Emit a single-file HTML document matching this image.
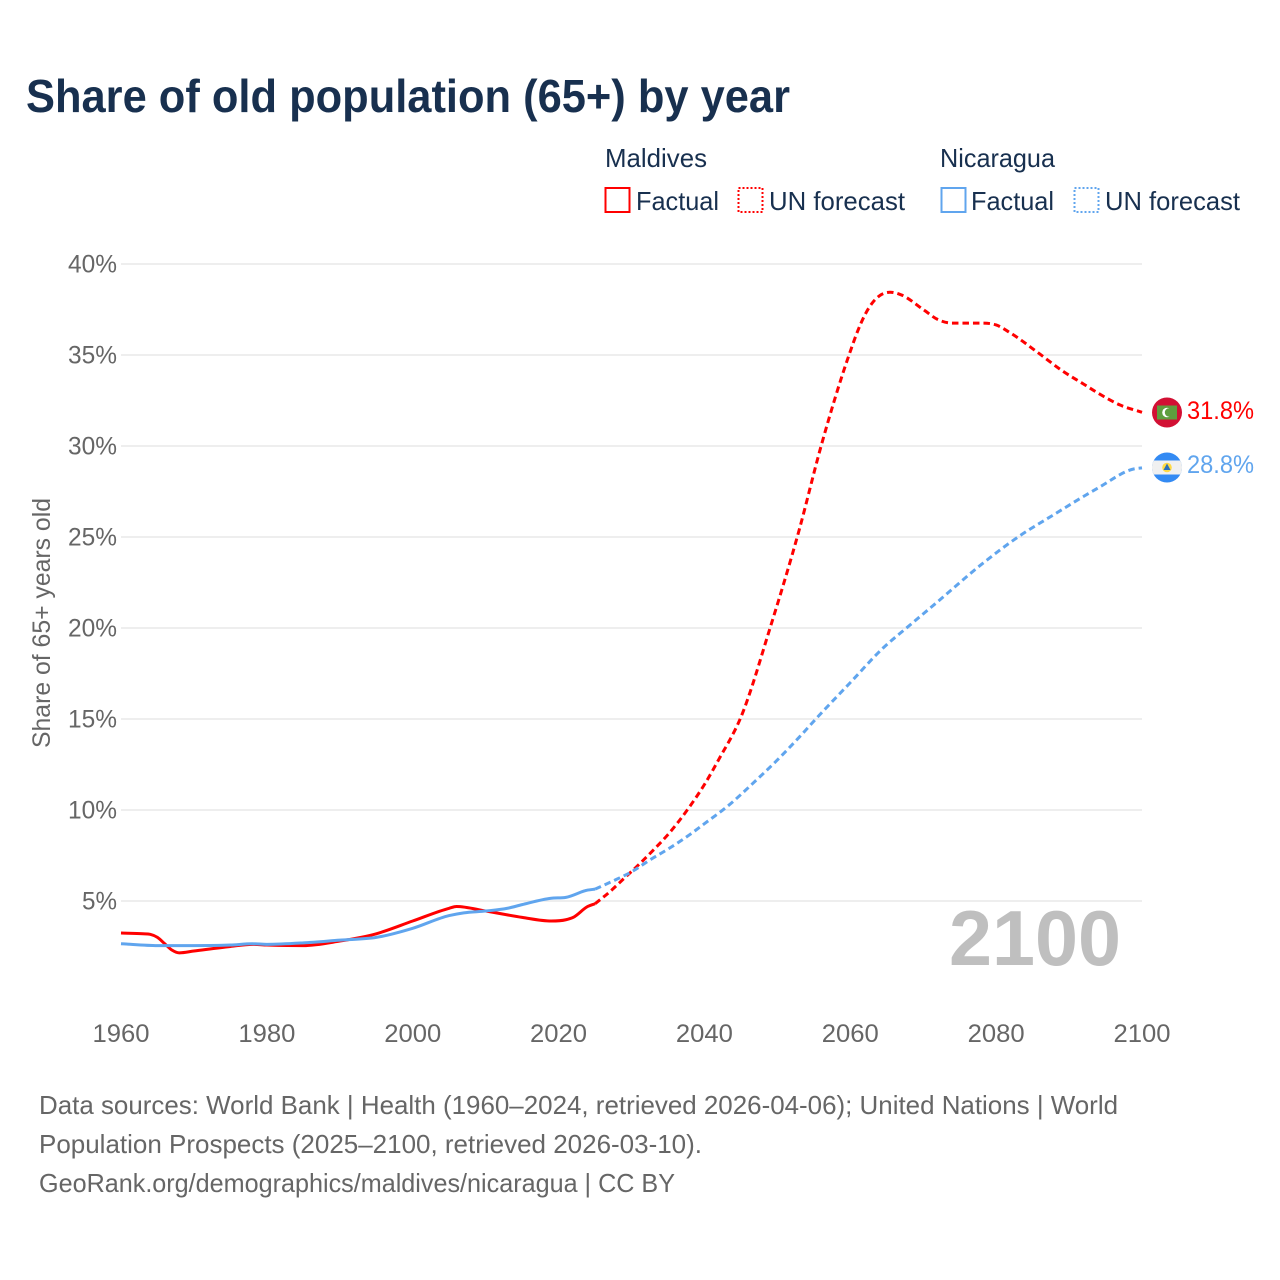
<!DOCTYPE html>
<html lang="en">
<head>
<meta charset="utf-8">
<title>Share of old population (65+) by year</title>
<style>
html,body{margin:0;padding:0;background:#fff}
svg{display:block;font-family:"Liberation Sans",sans-serif}
</style>
</head>
<body>
<svg id="chart" xmlns="http://www.w3.org/2000/svg" width="1280" height="1280" viewBox="0 0 1280 1280">
  <rect width="1280" height="1280" fill="#fff"/>
  <text x="26" y="112" font-size="46" font-weight="700" fill="#18304f" textLength="764" lengthAdjust="spacingAndGlyphs">Share of old population (65+) by year</text>

  <g font-size="26" fill="#18304f">
    <text x="605" y="167" textLength="102" lengthAdjust="spacingAndGlyphs">Maldives</text>
    <rect x="605.500" y="188" width="24" height="24" fill="none" stroke="#ff0000" stroke-width="2"/>
    <text x="636" y="210" textLength="83" lengthAdjust="spacingAndGlyphs">Factual</text>
    <rect x="738.500" y="188" width="24" height="24" fill="none" stroke="#ff0000" stroke-width="2" stroke-dasharray="2 2"/>
    <text x="769" y="210" textLength="136" lengthAdjust="spacingAndGlyphs">UN forecast</text>
    <text x="940" y="167" textLength="115" lengthAdjust="spacingAndGlyphs">Nicaragua</text>
    <rect x="941.500" y="188" width="24" height="24" fill="none" stroke="#60a5ee" stroke-width="2"/>
    <text x="971" y="210" textLength="83" lengthAdjust="spacingAndGlyphs">Factual</text>
    <rect x="1074.500" y="188" width="24" height="24" fill="none" stroke="#60a5ee" stroke-width="2" stroke-dasharray="2 2"/>
    <text x="1105" y="210" textLength="135" lengthAdjust="spacingAndGlyphs">UN forecast</text>
  </g>

  <g id="grid"></g>
  <g id="yticks" font-size="25" fill="#666"></g>
  <g id="xticks" font-size="25" fill="#666"></g>
  <text transform="translate(50,748) rotate(-90)" font-size="25" fill="#666" textLength="250" lengthAdjust="spacingAndGlyphs">Share of 65+ years old</text>
  <text x="949" y="965" font-size="78" font-weight="700" fill="#bfbfbf" textLength="172" lengthAdjust="spacingAndGlyphs">2100</text>

  <g id="series" fill="none" stroke-width="3" stroke-linejoin="round"></g>

  <g>
    <circle cx="1167" cy="412.500" r="15" fill="#d21034"/>
    <rect x="1157" y="405.500" width="20" height="14" fill="#5f9e3e"/>
    <circle cx="1167" cy="412.500" r="4.800" fill="#fff"/>
    <circle cx="1169" cy="412.500" r="4.200" fill="#5f9e3e"/>
  </g>
  <g>
    <circle cx="1167" cy="467.500" r="15" fill="#338af3"/>
    <path d="M1153.730 460.500 H1180.270 A15 15 0 0 1 1180.270 474.500 H1153.730 A15 15 0 0 1 1153.730 460.500 Z" fill="#f0f0f0"/>
    <circle cx="1167" cy="467.500" r="4.800" fill="#ffda44"/>
    <path d="M1167 463.500 L1170.500 470 H1163.500 Z" fill="#2a6fb8"/>
  </g>
  <text id="label-maldives" x="1187" y="419" font-size="25" fill="#ff0000" textLength="67" lengthAdjust="spacingAndGlyphs">31.8%</text>
  <text id="label-nicaragua" x="1187" y="473" font-size="25" fill="#60a5ee" textLength="67" lengthAdjust="spacingAndGlyphs">28.8%</text>

  <g font-size="26" fill="#666">
    <text x="39" y="1114" textLength="1079" lengthAdjust="spacingAndGlyphs">Data sources: World Bank | Health (1960–2024, retrieved 2026-04-06); United Nations | World</text>
    <text x="39" y="1153" textLength="663" lengthAdjust="spacingAndGlyphs">Population Prospects (2025–2100, retrieved 2026-03-10).</text>
    <text x="39" y="1192" textLength="636" lengthAdjust="spacingAndGlyphs">GeoRank.org/demographics/maldives/nicaragua | CC BY</text>
  </g>
</svg>
<script>
const yTickValues = [5, 10, 15, 20, 25, 30, 35, 40];
const xTickValues = [1960, 1980, 2000, 2020, 2040, 2060, 2080, 2100];

const maldivesFactualYears = [1960, 1963, 1964, 1965, 1966, 1967, 1968, 1970, 1975, 1978, 1980, 1985, 1990, 1995, 2000, 2005, 2006, 2010, 2015, 2019, 2021, 2022, 2024, 2025];
const maldivesFactualValues = [3.24, 3.2, 3.17, 3.0, 2.65, 2.3, 2.15, 2.25, 2.5, 2.62, 2.58, 2.55, 2.8, 3.2, 3.9, 4.6, 4.7, 4.45, 4.1, 3.9, 3.97, 4.1, 4.7, 4.85];
const maldivesForecastYears = [2025, 2027, 2029, 2031, 2033, 2035, 2038, 2040, 2042, 2045, 2049, 2053, 2056, 2060, 2061, 2062, 2063, 2064, 2065.5, 2067, 2070, 2072, 2074, 2078, 2080, 2082, 2086, 2089, 2092, 2094, 2097, 2100];
const maldivesForecastValues = [4.85, 5.5, 6.25, 7.0, 7.8, 8.65, 10.2, 11.4, 12.8, 15.1, 20.0, 25.4, 30.0, 35.2, 36.3, 37.2, 37.85, 38.25, 38.45, 38.3, 37.5, 36.95, 36.75, 36.75, 36.65, 36.2, 35.05, 34.15, 33.4, 32.9, 32.25, 31.85];
const nicaraguaFactualYears = [1960, 1965, 1970, 1975, 1978, 1980, 1985, 1990, 1995, 2000, 2005, 2007, 2010, 2013, 2015, 2019, 2021, 2024, 2025];
const nicaraguaFactualValues = [2.65, 2.55, 2.55, 2.58, 2.65, 2.62, 2.7, 2.85, 3.0, 3.5, 4.2, 4.35, 4.45, 4.6, 4.8, 5.15, 5.2, 5.6, 5.65];
const nicaraguaForecastYears = [2025, 2028, 2030, 2032.5, 2035, 2038, 2040, 2043, 2047, 2050, 2053, 2055.5, 2060, 2064.5, 2068, 2072, 2078, 2083, 2088, 2094, 2099, 2100];
const nicaraguaForecastValues = [5.65, 6.2, 6.6, 7.25, 7.85, 8.65, 9.25, 10.15, 11.6, 12.75, 14.0, 15.1, 17.0, 18.9, 20.1, 21.45, 23.5, 25.0, 26.25, 27.7, 28.75, 28.8];

const SVG_NS = 'http://www.w3.org/2000/svg';
const RED = '#ff0000';
const BLUE = '#60a5ee';

function xScale(year) { return 121 + (year - 1960) * (1142 - 121) / 140; }
function yScale(value) { return 992 - value * (992 - 264) / 40; }

function curvePath(years, values) {
  const xs = years.map(xScale);
  const ys = values.map(yScale);
  const n = xs.length;
  const slopes = [];
  for (let i = 0; i < n - 1; i++) { slopes.push((ys[i + 1] - ys[i]) / (xs[i + 1] - xs[i])); }
  const tangents = [slopes[0]];
  for (let i = 1; i < n - 1; i++) {
    const a = slopes[i - 1];
    const b = slopes[i];
    const ha = xs[i] - xs[i - 1];
    const hb = xs[i + 1] - xs[i];
    if (a * b <= 0) { tangents.push(0); }
    else {
      const t = (a * hb + b * ha) / (ha + hb);
      const limit = 3 * Math.min(Math.abs(a), Math.abs(b));
      tangents.push(Math.sign(t) * Math.min(Math.abs(t), limit));
    }
  }
  tangents.push(slopes[n - 2]);
  let d = 'M' + xs[0].toFixed(2) + ' ' + ys[0].toFixed(2);
  for (let i = 0; i < n - 1; i++) {
    const h = (xs[i + 1] - xs[i]) / 3;
    d += 'C' + (xs[i] + h).toFixed(2) + ' ' + (ys[i] + tangents[i] * h).toFixed(2) + ' ' + (xs[i + 1] - h).toFixed(2) + ' ' + (ys[i + 1] - tangents[i + 1] * h).toFixed(2) + ' ' + xs[i + 1].toFixed(2) + ' ' + ys[i + 1].toFixed(2);
  }
  return d;
}

const gridGroup = document.getElementById('grid');
const yTickGroup = document.getElementById('yticks');
const xTickGroup = document.getElementById('xticks');
const seriesGroup = document.getElementById('series');

yTickValues.forEach(function (v) {
  const line = document.createElementNS(SVG_NS, 'line');
  
  
  line.setAttribute('x1', xScale(1960));
  line.setAttribute('x2', xScale(2100));
  line.setAttribute('y1', yScale(v));
  line.setAttribute('y2', yScale(v));
  line.setAttribute('stroke', '#e9e9e9');
  line.setAttribute('stroke-width', '1.5');
  gridGroup.appendChild(line);

  const label = document.createElementNS(SVG_NS, 'text');
  
  
  label.setAttribute('x', 117);
  label.setAttribute('y', yScale(v) + 8.5);
  label.setAttribute('text-anchor', 'end');
  label.setAttribute('textLength', v < 10 ? 35 : 49);
  label.setAttribute('lengthAdjust', 'spacingAndGlyphs');
  label.textContent = v + '%';
  yTickGroup.appendChild(label);
});

xTickValues.forEach(function (yr) {
  const label = document.createElementNS(SVG_NS, 'text');
  
  
  label.setAttribute('x', xScale(yr));
  label.setAttribute('y', 1042);
  label.setAttribute('text-anchor', 'middle');
  label.setAttribute('textLength', 57);
  label.setAttribute('lengthAdjust', 'spacingAndGlyphs');
  label.textContent = yr;
  xTickGroup.appendChild(label);
});

function drawLine(name, years, values, color, dashed) {
  const path = document.createElementNS(SVG_NS, 'path');
  
  
  path.setAttribute('d', curvePath(years, values));
  path.setAttribute('stroke', color);
  if (dashed) { path.setAttribute('stroke-dasharray', '6.5 4'); }
  seriesGroup.appendChild(path);
}

drawLine('line-maldives-forecast', maldivesForecastYears, maldivesForecastValues, RED, true);
drawLine('line-maldives-factual', maldivesFactualYears, maldivesFactualValues, RED, false);
drawLine('line-nicaragua-forecast', nicaraguaForecastYears, nicaraguaForecastValues, BLUE, true);
drawLine('line-nicaragua-factual', nicaraguaFactualYears, nicaraguaFactualValues, BLUE, false);
</script>
</body>
</html>
